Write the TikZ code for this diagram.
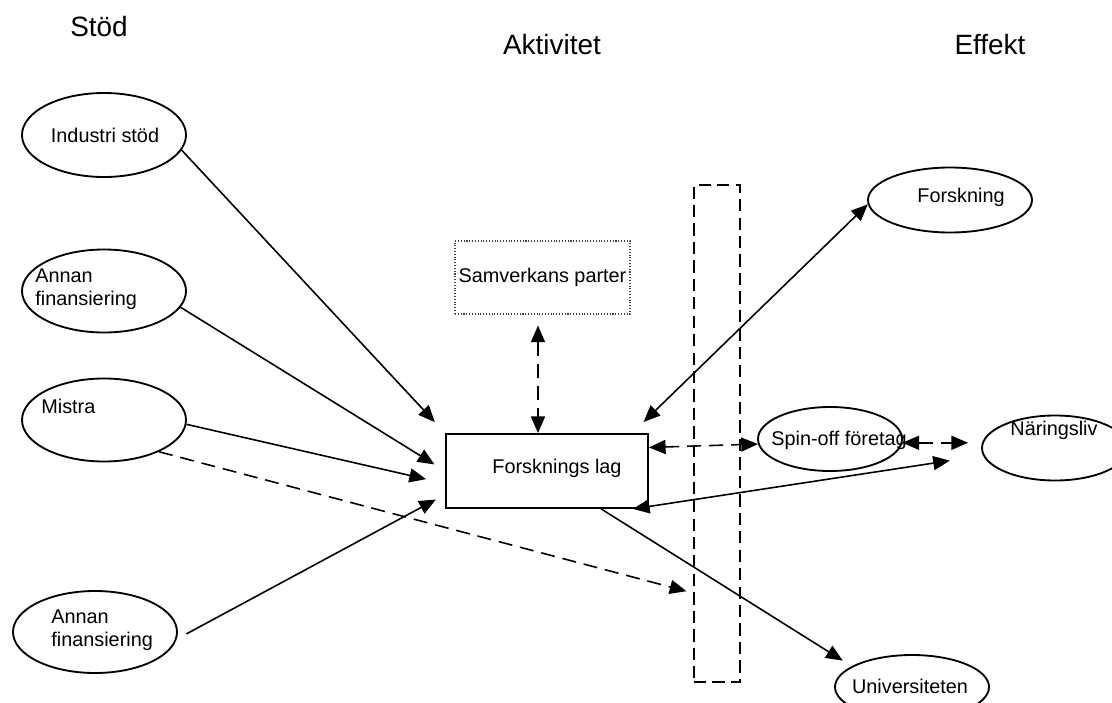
\documentclass[tikz,border=0pt]{standalone}
\usepackage{fontspec}
\setmainfont{Liberation Sans}
\usetikzlibrary{arrows.meta,shapes.geometric,calc}

\begin{document}
\begin{tikzpicture}[x=0.02cm,y=-0.02cm,
  every node/.style={font=\fontsize{11.3}{12.8}\selectfont},
  txt/.style={inner sep=0pt},
  head/.style={inner sep=0pt,font=\fontsize{15.9}{19}\selectfont},
  oval/.style={draw,ellipse,line width=1.05pt,inner sep=0pt},
  link/.style={line width=0.9pt,-{Triangle[length=9.5pt,width=8pt]}},
  twoway/.style={line width=0.9pt,{Triangle[length=9.5pt,width=8pt]}-{Triangle[length=9.5pt,width=8pt]}},
  dashes/.style={dash pattern=on 8pt off 4.5pt}]
  \useasboundingbox (0,0) rectangle (1112,703);
  % headings
  \node[head] (stod) at (99,27) {Stöd};
  \node[head] (akt) at (552,45) {Aktivitet};
  \node[head] (eff) at (990,45) {Effekt};
  % ellipses
  \foreach \n/\x/\y/\w/\h in {ind/104/135/164/84,fin1/104/291/164/83,mis/104/420/164/83,
      fin2/95/632/164/82,fors/950/200/164/65,spin/830/439/144/64,nar/1055/448/146/65,uni/912/687/154/64}
    \node[oval,minimum width=\w*0.02cm,minimum height=\h*0.02cm] (\n) at (\x,\y) {};
  \node[txt] (ind-t) at (105,135) {Industri stöd};
  \node[txt,anchor=west,align=left] (fin1-t) at (35,289) {Annan\\finansiering};
  \node[txt,anchor=west] (mis-t) at (41,406) {Mistra};
  \node[txt,anchor=west,align=left] (fin2-t) at (51,630) {Annan\\finansiering};
  \node[txt] (fors-t) at (961,197) {Forskning};
  \node[txt] (spin-t) at (839,440) {Spin-off företag};
  \node[txt] (nar-t) at (1054,430) {Näringsliv};
  \node[txt] (uni-t) at (910,686) {Universiteten};
  % boxes
  \node[draw,line width=1.05pt,minimum width=4.04cm,minimum height=1.48cm] (lag) at (547,471) {};
  \node[txt] (lag-t) at (557,468) {Forsknings lag};
  \node[draw=darkgray,densely dotted,line width=0.6pt,inner sep=0pt,
        minimum width=3.5cm,minimum height=1.46cm] (samv) at (542.5,277.5) {Samverkans parter};
  \node[draw,dash pattern=on 7pt off 3.5pt,line width=0.9pt,
        minimum width=0.92cm,minimum height=9.94cm] (gate) at (717,433.5) {};
  % connectors
  \draw[link,shorten >=.3cm] (ind.-11) -- (lag.north west);
  \draw[link,shorten >=.25cm] (fin1.-12) -- (lag.west);
  \draw[link,shorten >=.39cm] (mis.-3) -- (lag.187);
  \draw[link,shorten <=.22cm,shorten >=.21cm] (fin2.-5) -- (lag.193);
  \draw[link,dashes,shorten >=.14cm] (mis.-30) -- ($(gate.south west)!.18!(gate.north west)$);
  \draw[twoway,dashes,shorten <=.22cm] ([xshift=-.09cm]samv.south) -- ([xshift=-.09cm]samv.south |- lag.north);
  \draw[twoway,shorten <=.32cm] (lag.24) -- (fors.183);
  \draw[twoway,dashes] (lag.13) -- (spin.184);
  \draw[twoway,dashes,shorten >=.26cm] (spin.-3) -- (spin.-3 -| nar.west);
  \draw[twoway,shorten >=.67cm] ([xshift=-.32cm]lag.south east) -- (nar.186);
  \draw[link,shorten >=.21cm] (lag.-35) -- (uni.161);
\end{tikzpicture}
\end{document}
